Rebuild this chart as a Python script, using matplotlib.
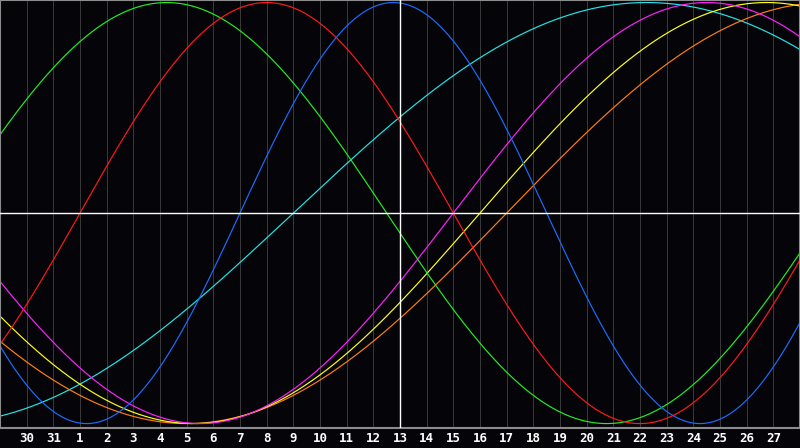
import numpy as np
import matplotlib
matplotlib.use("Agg")
import matplotlib.pyplot as plt

# Day labels along the bottom (one per grid column)
day_labels = ["30", "31", "1", "2", "3", "4", "5", "6", "7", "8", "9", "10", "11", "12",
              "13", "14", "15", "16", "17", "18", "19", "20", "21", "22", "23", "24",
              "25", "26", "27"]
today_index = 14  # day 13

# Biorhythm cycles: period (days) and index of upward zero crossing
periods = [53, 48, 43, 38, 33, 28, 23]
zero_up = [10, 18, 17, 16, -3, 2, 8]
colors = ["#22e6e6", "#ff7f0e", "#ffff1a", "#ff22ff", "#22ee22", "#ff1a1a", "#1a6eff"]

bg = "#050409"

fig = plt.figure(figsize=(8, 4.48), dpi=100, facecolor=bg)
ax = fig.add_axes([0, 20 / 448, 1, 428 / 448])
ax.set_facecolor(bg)

ax.set_xlim(-1, 29)
ax.set_ylim(-1.021, 1.012)

# vertical day grid
for i in range(len(day_labels)):
    ax.axvline(i, color="#383838", lw=0.75, zorder=1)

t = np.linspace(-1, 29, 1200)
for p, z, c in zip(periods, zero_up, colors):
    ax.plot(t, np.sin(2 * np.pi * (t - z) / p), color=c, lw=0.85, zorder=2)

ax.axhline(0, color="white", lw=1.0, zorder=3)
ax.axvline(today_index, color="white", lw=1.0, zorder=3)

for s in ax.spines.values():
    s.set_color("#8c8c8c")
    s.set_linewidth(1.5)
ax.set_xticks([])
ax.set_yticks([])

# day labels under the plot
for i, lab in enumerate(day_labels):
    x = (i + 1) / 30
    fig.text(x, 9.5 / 448, lab, color="white", fontsize=9, fontweight="bold",
             family="DejaVu Sans Mono", ha="center", va="center")

fig.savefig("out.png", dpi=100, facecolor=bg)
